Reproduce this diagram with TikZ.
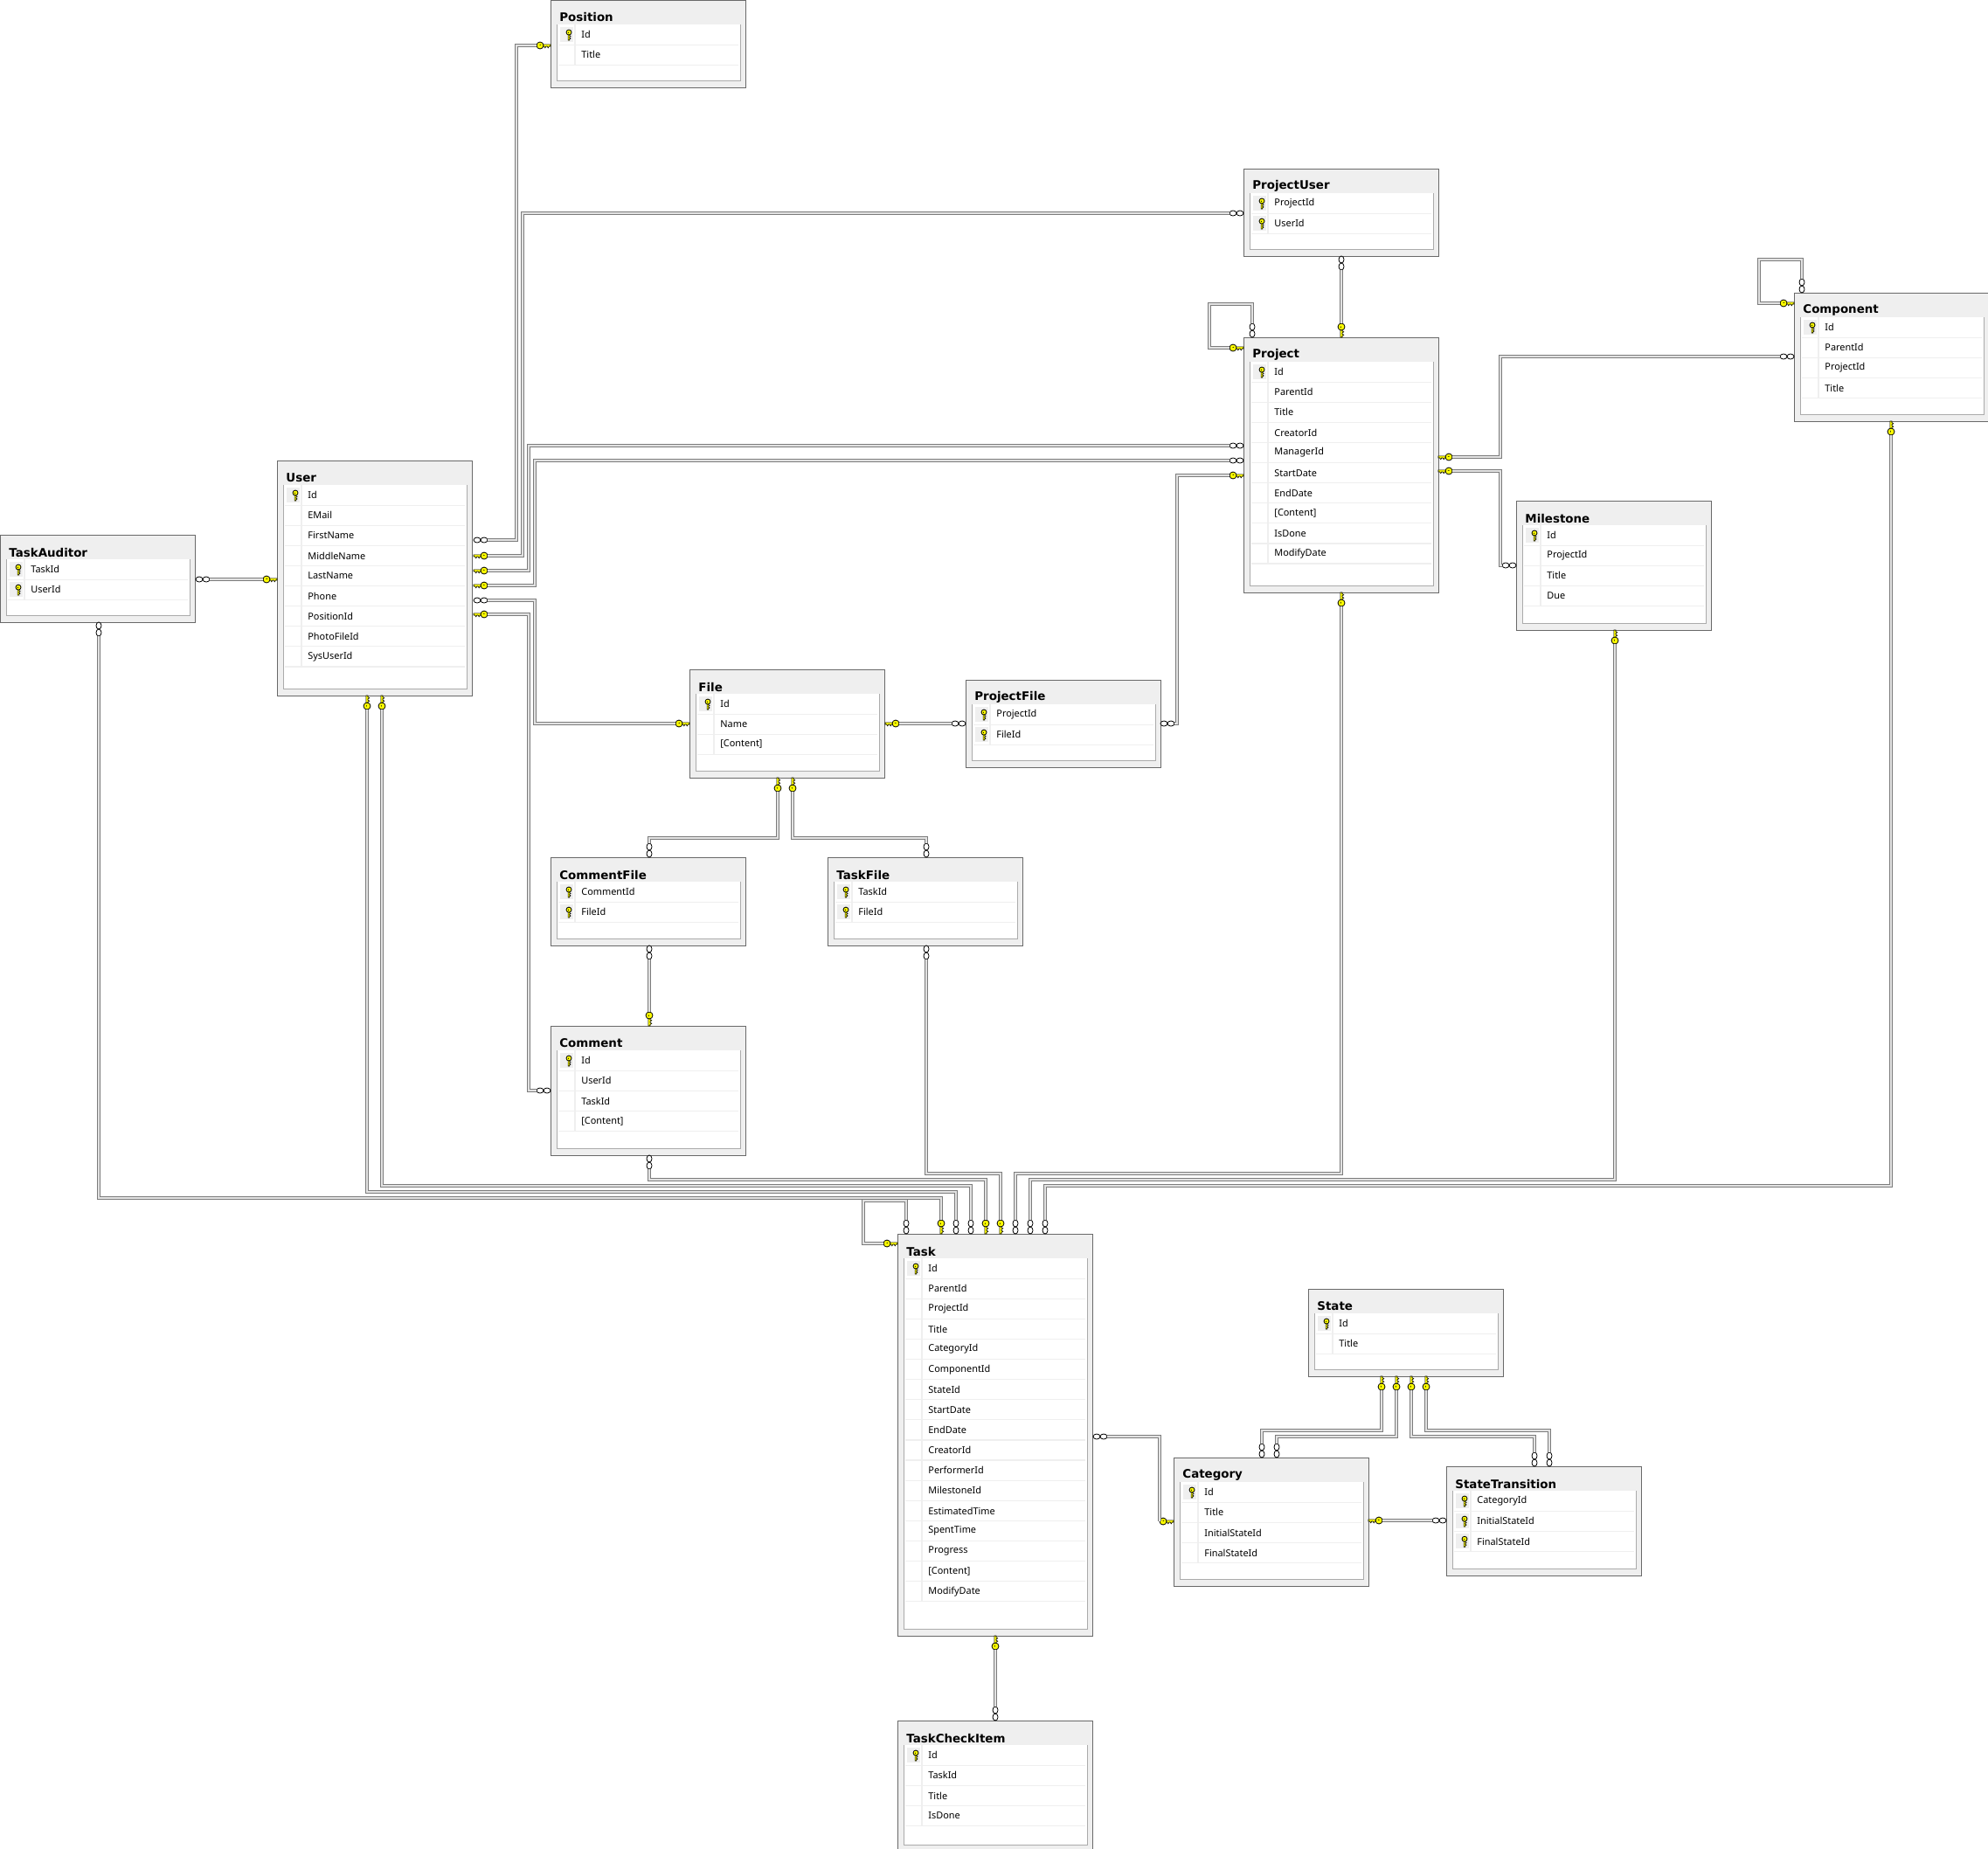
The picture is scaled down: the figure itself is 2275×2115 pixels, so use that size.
\documentclass[tikz,border=0pt]{standalone}
\usepackage{fontspec}
\setmainfont{Noto Sans}
\newfontfamily\titlefont{DejaVu Sans}
\usetikzlibrary{calc}
\definecolor{tablegray}{HTML}{EFEFEF}
\definecolor{bordergray}{HTML}{696969}
\definecolor{framegray}{HTML}{ABABAB}
\definecolor{tubegray}{HTML}{7C7C7C}
\definecolor{tubelight}{HTML}{E2E2E2}
\definecolor{keyyellow}{HTML}{FFFF00}
\tikzset{
	tablebox/.style={draw=bordergray, fill=tablegray, line width=.5pt, anchor=north west, minimum width=111.75pt, inner sep=0pt, outer sep=0pt},
	frameline/.style={draw=framegray, line width=.5pt},
	rowline/.style={draw=tablegray, line width=.6pt},
	tabletitle/.style={anchor=west, inner sep=0pt, font=\titlefont\fontsize{6.7}{8}\selectfont\bfseries},
	fieldtext/.style={anchor=west, inner sep=0pt, font=\fontsize{5.45}{6}\selectfont},
	rel/.style={draw=tubegray, line width=.55pt, double=tubelight, double distance=.9pt},
	relkey/.pic={
		\draw[fill=keyyellow, line width=.3pt] (0,.6pt) -- (4.5pt,.6pt) -- (4.5pt,-.5pt) -- (3.6pt,-.5pt) -- (3.1pt,-1.4pt) -- (2.5pt,-.5pt) -- (1.9pt,-.5pt) -- (1.4pt,-1.4pt) -- (.8pt,-.5pt) -- (0,-.5pt) -- cycle;
		\draw[fill=keyyellow, line width=.4pt] (6pt,0) circle (2pt);
		\draw[line width=.3pt] (5.4pt,.5pt) -- (6.2pt,.2pt);
	},
	relmany/.pic={
		\draw[fill=white, line width=.4pt] (2pt,0) ellipse (2pt and 1.5pt);
		\draw[fill=white, line width=.4pt] (6pt,0) ellipse (2pt and 1.5pt);
	}
}
\newcommand{\dbtable}[7]{
	\begin{scope}[shift={(#2,#3)}]
		\node[tablebox, minimum height={#4*0.5pt}] (#1) at (0,0) {};
		\fill[white] (7,28) rectangle (217,#4-8);
		\draw[frameline] (7,28) -- (7,#4-8) -- (217,#4-8) -- (217,28);
		\node[tabletitle] (#1-title) at (10,20) {#5};
		\foreach \field [count=\row] in {#7} {
				\pgfmathsetmacro{\rowtop}{28+23.1*(\row-1)}
				\draw[rowline] (9,\rowtop+23.1) -- (215,\rowtop+23.1);
				\draw[rowline] (28,\rowtop) -- (28,\rowtop+23.1);
				\ifnum\row>#6\else
					\fill[tablegray] (11,\rowtop+3) rectangle (26,\rowtop+20);
					\pic[rotate=90, scale=.75] at (21,\rowtop+18) {relkey};
				\fi
				\node[fieldtext] (#1-\row) at (35,\rowtop+11.7) {\field};
			}
	\end{scope}
}
\newcommand{\keyend}[4]{
	\pgfmathsetmacro{\keyflip}{#4>90 ? -1 : 1}
	\pic[rotate=#4, yscale=\keyflip] at (#2,#3) {relkey};
	\coordinate (#1) at ($(#2,#3)+(#4:8pt)$);
}
\newcommand{\manyend}[4]{
	\pic[rotate=#4] at (#2,#3) {relmany};
	\coordinate (#1) at ($(#2,#3)+(#4:8pt)$);
}
\begin{document}
\begin{tikzpicture}[x=.5pt, y=-.5pt]
	\useasboundingbox (0,0) rectangle (2275,2115);
	\dbtable{position}{630}{0}{100}{Position}{1}{Id,Title}
	\dbtable{projectuser}{1423}{193}{100}{ProjectUser}{2}{ProjectId,UserId}
	\dbtable{project}{1423}{386}{292}{Project}{1}{Id,ParentId,Title,CreatorId,ManagerId,StartDate,EndDate,{[Content]},IsDone,ModifyDate}
	\dbtable{component}{2053}{335}{147}{Component}{1}{Id,ParentId,ProjectId,Title}
	\dbtable{user}{317}{527}{269}{User}{1}{Id,EMail,FirstName,MiddleName,LastName,Phone,PositionId,PhotoFileId,SysUserId}
	\dbtable{taskauditor}{0}{612}{100}{TaskAuditor}{2}{TaskId,UserId}
	\dbtable{milestone}{1735}{573}{148}{Milestone}{1}{Id,ProjectId,Title,Due}
	\dbtable{file}{789}{766}{124}{File}{1}{Id,Name,{[Content]}}
	\dbtable{projectfile}{1105}{778}{100}{ProjectFile}{2}{ProjectId,FileId}
	\dbtable{commentfile}{630}{981}{101}{CommentFile}{2}{CommentId,FileId}
	\dbtable{taskfile}{947}{981}{101}{TaskFile}{2}{TaskId,FileId}
	\dbtable{comment}{630}{1174}{148}{Comment}{1}{Id,UserId,TaskId,{[Content]}}
	\dbtable{task}{1027}{1412}{460}{Task}{1}{Id,ParentId,ProjectId,Title,CategoryId,ComponentId,StateId,StartDate,EndDate,CreatorId,PerformerId,MilestoneId,EstimatedTime,SpentTime,Progress,{[Content]},ModifyDate}
	\dbtable{state}{1497}{1475}{100}{State}{1}{Id,Title}
	\dbtable{category}{1343}{1668}{147}{Category}{1}{Id,Title,InitialStateId,FinalStateId}
	\dbtable{statetransition}{1655}{1678}{125}{StateTransition}{3}{CategoryId,InitialStateId,FinalStateId}
	\dbtable{taskcheckitem}{1027}{1969}{150}{TaskCheckItem}{1}{Id,TaskId,Title,IsDone}

	\manyend{user-pos}{542}{618}{0}
	\keyend{pos-user}{630}{52}{180}
	\draw[rel] (user-pos) -| (591,52) -- (pos-user);
	\keyend{user-pu}{542}{636}{0}
	\manyend{pu-user}{1423}{244}{180}
	\draw[rel] (user-pu) -| (598,244) -- (pu-user);
	\keyend{user-prj1}{542}{653}{0}
	\manyend{prj-user1}{1423}{510}{180}
	\draw[rel] (user-prj1) -| (605,510) -- (prj-user1);
	\keyend{user-prj2}{542}{670}{0}
	\manyend{prj-user2}{1423}{527}{180}
	\draw[rel] (user-prj2) -| (612,527) -- (prj-user2);
	\manyend{user-file}{542}{687}{0}
	\keyend{file-user}{789}{828}{180}
	\draw[rel] (user-file) -| (612,828) -- (file-user);
	\keyend{user-com}{542}{703}{0}
	\manyend{com-user}{630}{1248}{180}
	\draw[rel] (user-com) -| (605,1248) -- (com-user);
	\manyend{ta-user}{224}{663}{0}
	\keyend{user-ta}{317}{663}{180}
	\draw[rel] (ta-user) -- (user-ta);

	\manyend{ta-task}{113}{712}{270}
	\keyend{task-ta}{1077}{1412}{90}
	\draw[rel] (ta-task) |- (1077,1371) -- (task-ta);
	\keyend{user-task1}{420}{796}{270}
	\manyend{task-user1}{1094}{1412}{90}
	\draw[rel] (user-task1) |- (1094,1364) -- (task-user1);
	\keyend{user-task2}{437}{796}{270}
	\manyend{task-user2}{1111}{1412}{90}
	\draw[rel] (user-task2) |- (1111,1357) -- (task-user2);
	\manyend{com-task}{743}{1322}{270}
	\keyend{task-com}{1128}{1412}{90}
	\draw[rel] (com-task) |- (1128,1350) -- (task-com);
	\manyend{tf-task}{1060}{1082}{270}
	\keyend{task-tf}{1145}{1412}{90}
	\draw[rel] (tf-task) |- (1145,1343) -- (task-tf);
	\manyend{task-prj}{1162}{1412}{90}
	\keyend{prj-task}{1535}{678}{270}
	\draw[rel] (task-prj) |- (1535,1343) -- (prj-task);
	\manyend{task-ms}{1179}{1412}{90}
	\keyend{ms-task}{1848}{721}{270}
	\draw[rel] (task-ms) |- (1848,1350) -- (ms-task);
	\manyend{task-cmp}{1196}{1412}{90}
	\keyend{cmp-task}{2164}{482}{270}
	\draw[rel] (task-cmp) |- (2164,1357) -- (cmp-task);

	\manyend{task-self}{1037}{1412}{90}
	\keyend{task-selfkey}{1027}{1423}{180}
	\draw[rel] (task-self) |- (988,1374) |- (task-selfkey);
	\manyend{prj-self}{1433}{386}{90}
	\keyend{prj-selfkey}{1423}{398}{180}
	\draw[rel] (prj-self) |- (1384,348) |- (prj-selfkey);
	\manyend{cmp-self}{2062}{335}{90}
	\keyend{cmp-selfkey}{2053}{347}{180}
	\draw[rel] (cmp-self) |- (2013,297) |- (cmp-selfkey);

	\manyend{pu-prj}{1535}{293}{270}
	\keyend{prj-pu}{1535}{386}{90}
	\draw[rel] (pu-prj) -- (prj-pu);
	\keyend{prj-cmp}{1646}{523}{0}
	\manyend{cmp-prj}{2053}{408}{180}
	\draw[rel] (prj-cmp) -| (1717,408) -- (cmp-prj);
	\keyend{prj-ms}{1646}{539}{0}
	\manyend{ms-prj}{1735}{647}{180}
	\draw[rel] (prj-ms) -| (1717,647) -- (ms-prj);
	\keyend{prj-pf}{1423}{544}{180}
	\manyend{pf-prj}{1328}{828}{0}
	\draw[rel] (prj-pf) -| (1347,828) -- (pf-prj);
	\keyend{file-pf}{1013}{828}{0}
	\manyend{pf-file}{1105}{828}{180}
	\draw[rel] (file-pf) -- (pf-file);
	\keyend{file-cf}{890}{890}{270}
	\manyend{cf-file}{743}{981}{90}
	\draw[rel] (file-cf) |- (743,959) -- (cf-file);
	\keyend{file-tf}{907}{890}{270}
	\manyend{tf-file}{1060}{981}{90}
	\draw[rel] (file-tf) |- (1060,959) -- (tf-file);
	\manyend{cf-com}{743}{1082}{270}
	\keyend{com-cf}{743}{1174}{90}
	\draw[rel] (cf-com) -- (com-cf);

	\manyend{task-cat}{1251}{1644}{0}
	\keyend{cat-task}{1343}{1741}{180}
	\draw[rel] (task-cat) -| (1327,1741) -- (cat-task);
	\manyend{cat-state1}{1444}{1668}{90}
	\keyend{state-cat1}{1581}{1575}{270}
	\draw[rel] (cat-state1) |- (1581,1637) -- (state-cat1);
	\manyend{cat-state2}{1461}{1668}{90}
	\keyend{state-cat2}{1598}{1575}{270}
	\draw[rel] (cat-state2) |- (1598,1644) -- (state-cat2);
	\manyend{st-state1}{1756}{1678}{90}
	\keyend{state-st1}{1615}{1575}{270}
	\draw[rel] (st-state1) |- (1615,1644) -- (state-st1);
	\manyend{st-state2}{1773}{1678}{90}
	\keyend{state-st2}{1632}{1575}{270}
	\draw[rel] (st-state2) |- (1632,1637) -- (state-st2);
	\keyend{cat-st}{1566}{1740}{0}
	\manyend{st-cat}{1655}{1740}{180}
	\draw[rel] (cat-st) -- (st-cat);
	\keyend{task-ci}{1139}{1872}{270}
	\manyend{ci-task}{1139}{1969}{90}
	\draw[rel] (task-ci) -- (ci-task);
\end{tikzpicture}
\end{document}
